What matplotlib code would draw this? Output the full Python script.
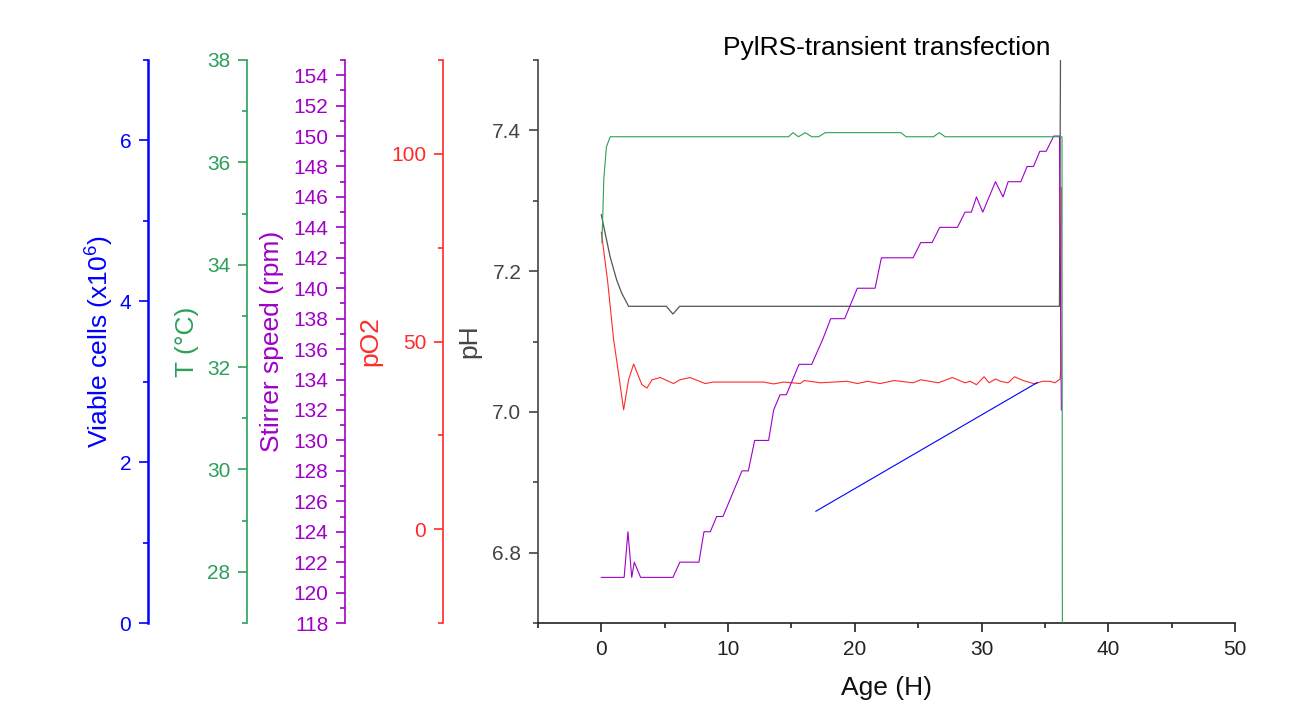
import numpy as np
import matplotlib
matplotlib.use('Agg')
import matplotlib.pyplot as plt
from matplotlib.ticker import MultipleLocator

plt.rcParams['font.family'] = ['Liberation Sans', 'DejaVu Sans']
plt.rcParams['mathtext.default'] = 'regular'

# bioreactor run, age in hours
ph_age = [0.0, 0.3, 0.7, 1.2, 1.6, 2.15, 5.13, 5.65, 6.18, 36.15, 36.3]
ph_val = [7.28, 7.254, 7.22, 7.188, 7.169, 7.15, 7.15, 7.139, 7.15, 7.15, 7.8]

temp_age = [0.05, 0.2, 0.4, 0.7, 14.77, 15.12, 15.56, 16.09, 16.61, 17.14, 17.67,
            23.63, 24.05, 26.21, 26.66, 27.13, 36.35, 36.4]
temp_val = [34.43, 35.7, 36.3, 36.5, 36.5, 36.58, 36.5, 36.58, 36.5, 36.5, 36.58,
            36.58, 36.5, 36.5, 36.58, 36.5, 36.5, 20.0]

stir_age = [0.0, 1.8, 2.1, 2.4, 2.6, 3.1, 5.65, 6.2, 7.7, 8.1, 8.6, 9.1, 9.6,
            11.1, 11.6, 12.1, 13.2, 13.6, 14.1, 14.6, 15.6, 16.6, 17.5, 18.1,
            19.2, 20.2, 21.6, 22.1, 24.6, 25.2, 26.1, 26.7, 28.1, 28.7, 29.2,
            29.6, 30.1, 31.1, 31.7, 32.1, 33.1, 33.6, 34.1, 34.6, 35.1, 35.7,
            36.15, 36.3]
stir_val = [121, 121, 124, 121, 122, 121, 121, 122, 122, 124, 124, 125, 125,
            128, 128, 130, 130, 132, 133, 133, 135, 135, 136.7, 138,
            138, 140, 140, 142, 142, 143, 143, 144, 144, 145, 145,
            146, 145, 147, 146, 147, 147, 148, 148, 149, 149, 150,
            150, 132]

po2_age = [0.0, 0.5, 0.97, 1.24, 1.76, 2.15, 2.55, 3.2, 3.6, 4.0, 4.65, 5.7,
           6.2, 7.0, 8.2, 8.85, 12.8, 13.6, 14.4, 15.7, 16.0, 17.3, 19.4, 20.2,
           21.0, 22.0, 23.1, 24.6, 25.2, 26.6, 27.7, 28.7, 29.1, 29.6, 30.2,
           30.6, 31.1, 31.5, 32.1, 32.6, 33.3, 34.2, 34.8, 35.4, 35.8, 36.2,
           36.25, 36.3]
po2_val = [79.1, 66.0, 50.5, 44.3, 31.8, 39.8, 44.0, 38.5, 37.6, 39.8, 40.4, 38.8,
           39.8, 40.4, 38.8, 39.2, 39.2, 38.7, 39.2, 38.8, 39.6, 39.0, 39.4, 38.8,
           39.4, 38.8, 39.6, 39.0, 39.8, 39.0, 40.4, 39.0, 39.4, 38.5, 40.6,
           39.0, 40.0, 39.4, 39.0, 40.6, 39.6, 38.7, 39.4, 39.4, 39.0, 40.0,
           42.5, 91.0]

cells_age = [16.93, 34.4]
cells_val = [1.39, 2.99]

BLUE = '#0000FF'
GREEN = '#2CA05A'
PURPLE = '#A000C8'
RED = '#FF2A2A'
GRAY = '#444444'

fig = plt.figure(figsize=(13.07, 7.08), dpi=100)
ax = fig.add_axes([0.4116, 0.12, 0.5333, 0.7953])

TICK_FS = 15
LABEL_FS = 19


def style_axis(a, color, lw=1.2):
    a.tick_params(axis='y', which='major', colors=color, length=6.5, width=1.2,
                  labelsize=TICK_FS, direction='out', pad=5.5)
    a.tick_params(axis='y', which='minor', colors=color, length=3.5, width=1.2,
                  direction='out')
    a.spines['left'].set_color(color)
    a.spines['left'].set_linewidth(lw)


def side_axis(pos, color, ylim, label, major, minor, lw=1.2, lx=None):
    a = ax.twinx()
    for s in ['top', 'bottom', 'right']:
        a.spines[s].set_visible(False)
    a.spines['left'].set_visible(True)
    a.spines['left'].set_position(('axes', pos))
    a.yaxis.set_ticks_position('left')
    a.yaxis.set_label_position('left')
    a.set_ylim(*ylim)
    a.yaxis.set_major_locator(MultipleLocator(major))
    a.yaxis.set_minor_locator(MultipleLocator(minor))
    a.set_ylabel(label, color=color, fontsize=LABEL_FS)
    a.yaxis.set_label_coords(lx, 0.5)
    style_axis(a, color, lw)
    return a


# main axis: pH against age
ax.plot(ph_age, ph_val, color='#555555', lw=0.9)
ax.set_xlim(-5, 50)
ax.set_ylim(6.7, 7.5)
ax.xaxis.set_major_locator(MultipleLocator(10))
ax.xaxis.set_minor_locator(MultipleLocator(5))
ax.yaxis.set_major_locator(MultipleLocator(0.2))
ax.yaxis.set_minor_locator(MultipleLocator(0.1))
ax.yaxis.set_major_formatter(plt.FormatStrFormatter('%.1f'))
for s in ['top', 'right']:
    ax.spines[s].set_visible(False)
ax.spines['bottom'].set_linewidth(1.2)
ax.spines['bottom'].set_color('#222222')
ax.tick_params(axis='x', which='major', length=6.5, width=1.2, labelsize=TICK_FS,
               colors='#222222', pad=6)
ax.tick_params(axis='x', which='minor', length=3.5, width=1.2, colors='#222222')
style_axis(ax, GRAY)
ax.set_ylabel('pH', color=GRAY, fontsize=LABEL_FS)
ax.yaxis.set_label_coords(-0.0815, 0.5)
ax.set_xlabel('Age (H)', fontsize=LABEL_FS, labelpad=12, color='#111111')
ax.set_title('PylRS-transient transfection', fontsize=LABEL_FS, pad=2)

ax_po2 = side_axis(-0.1363, RED, (-25, 125), 'pO2', 50, 25, lx=-0.2235)
ax_stir = side_axis(-0.2769, PURPLE, (118, 155), 'Stirrer speed (rpm)', 2, 1, lx=-0.364)
ax_temp = side_axis(-0.4175, GREEN, (27, 38), 'T (°C)', 2, 1, lx=-0.4865)
ax_cells = side_axis(-0.5595, BLUE, (0, 7), 'Viable cells (x10$^{6}$)', 2, 1,
                     lw=1.8, lx=-0.6055)

ax_po2.plot(po2_age, po2_val, color=RED, lw=0.8)
ax_stir.plot(stir_age, stir_val, color=PURPLE, lw=0.8)
ax_temp.plot(temp_age, temp_val, color=GREEN, lw=0.8)
ax_cells.plot(cells_age, cells_val, color=BLUE, lw=0.8)

fig.savefig('out.png', dpi=100, facecolor='white')
